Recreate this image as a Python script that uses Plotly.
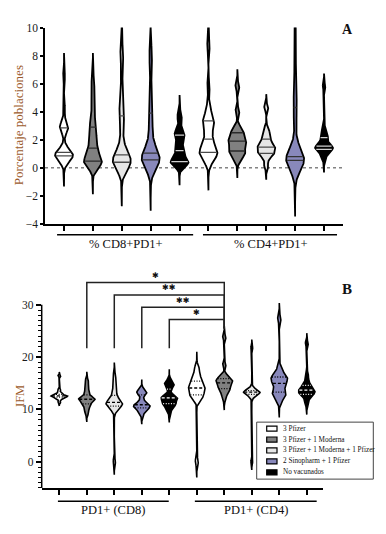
import numpy as np
import plotly.graph_objects as go

# ---------------- data ----------------
series_names = ["3 Pfizer", "3 Pfizer + 1 Moderna", "3 Pfizer + 1 Moderna + 1 Pfizer",
                "2 Sinopharm + 1 Pfizer", "No vacunados"]
groups_A = ["% CD8+PD1+", "% CD4+PD1+"]
groups_B = ["PD1+ (CD8)", "PD1+ (CD4)"]
yticks_A = [-4, -2, 0, 2, 4, 6, 8, 10]
yticks_B = [0, 10, 20, 30]

# Panel A: % of population, one list of observations per vaccine group
a_cd8_pfizer3 = [0.35, 0.55, 0.65, 0.75, 0.8, 0.9, 0.95, 1.0, 1.0, 1.1, 1.2, 1.5, 2.6, 2.8, 2.9, 3.0, 3.2, 4.2, 6.5]
a_cd8_moderna = [0.1, 0.2, 0.3, 0.35, 0.4, 0.45, 0.5, 0.6, 0.8, 1.0, 1.2, 1.4, 1.6, 1.9, 2.2, 2.5, 2.8, 3.0, 3.4, 4.0, 4.8, 5.5, 6.2]
a_cd8_moderna_pf = [0.0, 0.05, 0.1, 0.2, 0.3, 0.35, 0.45, 0.55, 0.65, 0.75, 0.85, 0.93, 1.1, 1.4, 2.0, 2.8, 3.6, 3.8, 4.2, 4.8, 6.0, 7.8, 8.3]
a_cd8_sinopharm = [0.0, 0.1, 0.25, 0.4, 0.5, 0.55, 0.6, 0.7, 0.8, 0.9, 1.0, 1.05, 1.3, 1.7, 2.3, 3.0, 3.7, 4.1, 4.8, 5.8, 7.6, 8.3, 12.0]
a_cd8_novac = [0.15, 0.25, 0.3, 0.35, 0.4, 0.45, 0.55, 0.7, 0.9, 1.15, 1.3, 1.5, 1.8, 2.2, 2.3, 2.4, 2.6, 2.8, 3.5, 3.8]

a_cd4_pfizer3 = [0.4, 0.6, 0.8, 0.95, 1.05, 1.1, 1.2, 1.35, 1.5, 1.7, 2.05, 2.3, 2.7, 3.0, 3.2, 3.35, 3.5, 3.8, 4.4, 5.8, 8.7]
a_cd4_moderna = [0.5, 0.8, 1.0, 1.1, 1.2, 1.4, 1.6, 1.75, 1.9, 1.95, 2.1, 2.3, 2.5, 2.65, 2.9, 4.0, 5.8]
a_cd4_moderna_pf = [0.1, 0.6, 0.9, 1.0, 1.05, 1.2, 1.35, 1.45, 1.5, 1.6, 1.8, 2.0, 2.2, 2.5, 2.8, 4.3]
a_cd4_sinopharm = [0.0, 0.1, 0.2, 0.35, 0.45, 0.5, 0.55, 0.6, 0.65, 0.7, 0.75, 0.78, 0.82, 1.0, 1.3, 1.9, 3.4, 4.2, 4.6, 5.5, 7.0, 8.5, 10.5, 12.5]
a_cd4_novac = [0.6, 0.9, 1.1, 1.2, 1.3, 1.35, 1.4, 1.45, 1.5, 1.6, 1.65, 1.8, 2.0, 2.2, 2.3, 2.5, 2.8, 5.8]

# Panel B: IFM
b_cd8_pfizer3 = [11.4, 11.9, 12.1, 12.3, 12.4, 12.5, 12.5, 12.6, 12.6, 12.7, 12.8, 13.0, 13.3, 13.8, 16.4]
b_cd8_moderna = [9.2, 9.8, 10.4, 10.8, 11.0, 11.3, 11.6, 11.8, 11.9, 12.0, 12.1, 12.2, 12.5, 12.9, 13.4, 14.0, 14.8, 15.6]
b_cd8_moderna_pf = [0.0, 9.6, 10.2, 10.5, 10.6, 10.8, 11.0, 11.2, 11.3, 11.4, 11.6, 11.9, 12.3, 12.8, 13.5, 14.5, 15.5, 16.5]
b_cd8_sinopharm = [9.0, 9.6, 10.0, 10.2, 10.3, 10.5, 10.7, 10.8, 10.9, 11.1, 11.4, 12.0, 12.8, 13.1, 13.3, 13.5, 13.9]
b_cd8_novac = [9.6, 10.4, 10.8, 11.0, 11.1, 11.5, 11.8, 12.0, 12.2, 12.3, 12.5, 12.8, 13.9, 14.5, 14.8, 15.0, 15.6]

b_cd4_pfizer3 = [0.0, 11.8, 12.3, 12.6, 12.8, 13.2, 13.6, 13.9, 14.1, 14.3, 14.6, 15.0, 15.4, 15.7, 16.3, 17.2, 18.0]
b_cd4_moderna = [12.0, 12.8, 13.4, 13.8, 14.0, 14.2, 14.6, 14.9, 15.1, 15.3, 15.5, 15.7, 15.9, 16.1, 16.6, 18.5, 23.8]
b_cd4_moderna_pf = [0.0, 12.2, 12.6, 12.8, 12.9, 13.0, 13.1, 13.2, 13.3, 13.35, 13.4, 13.5, 13.6, 13.7, 13.9, 14.3, 21.8]
b_cd4_sinopharm = [11.5, 12.3, 12.7, 13.0, 13.3, 13.6, 14.2, 14.8, 15.0, 15.4, 15.8, 16.0, 16.2, 16.5, 17.0, 18.0, 27.3]
b_cd4_novac = [11.0, 11.8, 12.4, 12.8, 12.9, 13.1, 13.3, 13.5, 13.7, 13.8, 14.0, 14.3, 14.6, 15.0, 15.8, 16.8, 22.6]

# significance comparisons in panel B: (left violin index, right violin index, label)
comparisons_B = [(1, 6, "*"), (2, 6, "**"), (3, 6, "**"), (4, 6, "*")]

panel_A = [a_cd8_pfizer3, a_cd8_moderna, a_cd8_moderna_pf, a_cd8_sinopharm, a_cd8_novac,
           a_cd4_pfizer3, a_cd4_moderna, a_cd4_moderna_pf, a_cd4_sinopharm, a_cd4_novac]
panel_B = [b_cd8_pfizer3, b_cd8_moderna, b_cd8_moderna_pf, b_cd8_sinopharm, b_cd8_novac,
           b_cd4_pfizer3, b_cd4_moderna, b_cd4_moderna_pf, b_cd4_sinopharm, b_cd4_novac]

# ---------------- style ----------------
W, H = 386, 534
FONT = "Liberation Serif"
fills = ["#ffffff", "#808080", "#e6e6e6", "#8888bb", "#000000"]
qcol_A = ["#4a4a4a", "#2a2a2a", "#4a4a4a", "#333333", "#d0d0d0"]
qcol_B = ["#000000", "#000000", "#000000", "#000000", "#ffffff"]
TITLE_COL = "#9b5a2b"
TICK_COL = "#1a1a1a"


def X(px):
    return px / W


def Y(py):
    return 1 - py / H


def kde(obs, n=500):
    a = np.asarray(obs, float)
    sd = a.std(ddof=1)
    q1, q3 = np.percentile(a, [25, 75])
    bw = 0.22 * np.sqrt(sd * (q3 - q1) / 1.349)
    y = np.linspace(a.min() - 5 * bw, a.max() + 5 * bw, n)
    d = np.exp(-0.5 * ((y[:, None] - a[None, :]) / bw) ** 2).sum(1)
    return y, d / d.max()


fig = go.Figure()


def add_violins(panel, xa, ya, halfw, lw, qcols, dashed):
    for i, obs in enumerate(panel):
        s = i % 5
        y, d = kde(obs)
        hw = halfw * d
        xs = np.concatenate([i - hw, (i + hw)[::-1], [i - hw[0]]])
        ys = np.concatenate([y, y[::-1], [y[0]]])
        fig.add_trace(go.Scatter(x=xs, y=ys, mode="lines", fill="toself", fillcolor=fills[s],
                                 line=dict(color="#000000", width=lw), xaxis=xa, yaxis=ya,
                                 showlegend=False, hoverinfo="skip"))
        qs = np.percentile(obs, [25, 50, 75])
        for k, q in enumerate(qs):
            w = np.interp(q, y, hw) * 0.92
            if dashed:
                dash = "3px,2px" if k == 1 else "1px,1.6px"
            else:
                dash = "solid"
            fig.add_trace(go.Scatter(x=[i - w, i + w], y=[q, q], mode="lines",
                                     line=dict(color=qcols[s], width=1.3, dash=dash),
                                     xaxis=xa, yaxis=ya, showlegend=False, hoverinfo="skip"))


add_violins(panel_A, "x", "y", 0.31, 1.8, qcol_A, False)
add_violins(panel_B, "x2", "y2", 0.30, 1.6, qcol_B, True)

# significance brackets (panel B)
shapes = []
annotations = []
nlev = len(comparisons_B)
for lev, (l, r, lab) in enumerate(comparisons_B):
    h = 27.2 + 2.35 * (nlev - 1 - lev)
    fig.add_trace(go.Scatter(x=[l, l, r, r], y=[21.7, h, h, 25.5], mode="lines",
                             line=dict(color="#222222", width=1.5), xaxis="x2", yaxis="y2",
                             showlegend=False, hoverinfo="skip"))
    annotations.append(dict(x=(l + r) / 2, y=h, xref="x2", yref="y2", text="✱" * len(lab),
                            showarrow=False, yshift=7, font=dict(family="DejaVu Sans", size=8, color="#111")))

# zero dotted line in A
shapes.append(dict(type="line", xref="x domain", x0=0, x1=1, yref="y", y0=0, y1=0,
                   line=dict(color="#444444", width=1, dash="dot"), layer="below"))
# y axis line for B (only up to 30)
shapes.append(dict(type="line", xref="x2 domain", x0=0, x1=0, yref="y2", y0=-5, y1=30,
                   line=dict(color="#000000", width=1.5)))

# group lines and labels
for spans, labels, ly, ty, xr in [
        ([(-0.24, 4.47), (4.81, 9.45)], groups_A, 234, 243.5, "x"),
        ([(-0.05, 3.98), (4.93, 9.36)], groups_B, 506.7, 516, "x2")]:
    for (a0, a1), lab in zip(spans, labels):
        shapes.append(dict(type="line", xref=xr, x0=a0, x1=a1, yref="paper", y0=Y(ly), y1=Y(ly),
                           line=dict(color="#000000", width=1.5)))
        annotations.append(dict(x=(a0 + a1) / 2, y=Y(ty), xref=xr, yref="paper", text=lab,
                                showarrow=False, xanchor="center", yanchor="middle",
                                font=dict(family=FONT, size=12.5, color="#111")))

# axis titles and panel letters
annotations.append(dict(x=X(18), y=Y(122), xref="paper", yref="paper", text="Porcentaje poblaciones",
                        textangle=-90, showarrow=False, xanchor="center", yanchor="middle",
                        font=dict(family=FONT, size=13, color=TITLE_COL)))
annotations.append(dict(x=X(20), y=Y(399), xref="paper", yref="paper", text="IFM",
                        textangle=-90, showarrow=False, xanchor="center", yanchor="middle",
                        font=dict(family=FONT, size=12.5, color=TITLE_COL)))
annotations.append(dict(x=X(347), y=Y(24), xref="paper", yref="paper", text="<b>A</b>",
                        showarrow=False, xanchor="center", yanchor="middle",
                        font=dict(family=FONT, size=14, color="#111")))
annotations.append(dict(x=X(347), y=Y(290), xref="paper", yref="paper", text="<b>B</b>",
                        showarrow=False, xanchor="center", yanchor="middle",
                        font=dict(family=FONT, size=15, color="#111")))

# legend (manual, compact)
shapes.append(dict(type="rect", xref="paper", yref="paper", x0=X(256.7), x1=X(373.3),
                   y0=Y(484), y1=Y(425.7), line=dict(color="#444444", width=1),
                   fillcolor="#ffffff", layer="above"))
for i, name in enumerate(series_names):
    yc = 432.3 + 11.2 * i
    shapes.append(dict(type="rect", xref="paper", yref="paper", x0=X(266.7), x1=X(277),
                       y0=Y(yc + 2.6), y1=Y(yc - 2.6), line=dict(color="#000000", width=1.2),
                       fillcolor=fills[i], layer="above"))
    annotations.append(dict(x=X(280.5), y=Y(yc), xref="paper", yref="paper", text=name,
                            xanchor="left", yanchor="middle", showarrow=False,
                            font=dict(family=FONT, size=7.2, color="#111")))

tickfont = dict(family=FONT, size=11.5, color=TICK_COL)
fig.update_layout(
    width=W, height=H, autosize=False,
    margin=dict(l=0, r=0, t=0, b=0, pad=0),
    paper_bgcolor="#ffffff", plot_bgcolor="#ffffff",
    showlegend=False,
    shapes=shapes, annotations=annotations,
    xaxis=dict(domain=[X(45), X(343)], range=[-0.658, 9.657], anchor="y",
               tickvals=list(range(10)), ticktext=[""] * 10, ticks="outside", ticklen=5,
               tickwidth=1.5, tickcolor="#000", showline=True, linecolor="#000", linewidth=1.5,
               showgrid=False, zeroline=False),
    yaxis=dict(domain=[Y(223), Y(22)], range=[-4, 10], anchor="x",
               tickvals=yticks_A, ticks="outside", ticklen=3, tickwidth=1.5, tickcolor="#000",
               showline=True, linecolor="#000", linewidth=1.5, showgrid=False, zeroline=False,
               tickfont=tickfont),
    xaxis2=dict(domain=[X(41.7), X(323)], range=[-0.64, 9.59], anchor="y2",
                tickvals=list(range(10)), ticktext=[""] * 10, ticks="outside", ticklen=5,
                tickwidth=1.5, tickcolor="#000", showline=True, linecolor="#000", linewidth=1.5,
                showgrid=False, zeroline=False),
    yaxis2=dict(domain=[Y(493), Y(273.6)], range=[-5, 36], anchor="x2",
                tickvals=yticks_B, ticks="outside", ticklen=5, tickwidth=1.5, tickcolor="#000",
                showline=False, showgrid=False, zeroline=False, tickfont=tickfont,
                minor=dict(tickvals=[v for v in range(-5, 31) if v % 10 != 0], ticks="outside",
                           ticklen=2.5, tickwidth=1, tickcolor="#000")),
)

fig.write_html("out.html")
